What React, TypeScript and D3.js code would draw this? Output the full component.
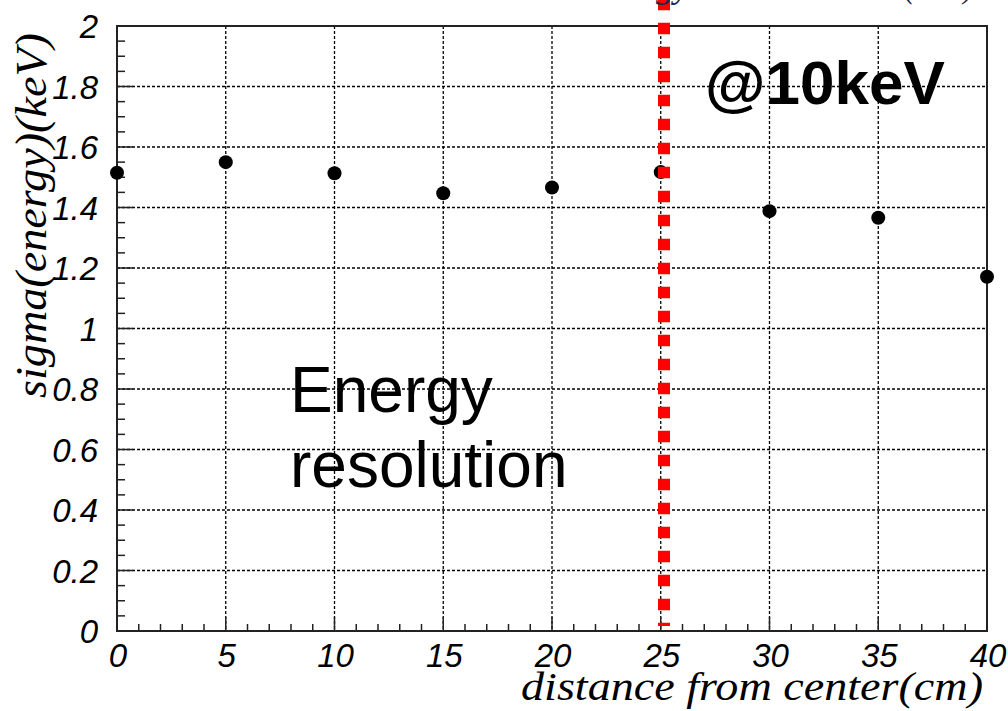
import React from "react";
import * as d3 from "d3";

const distances = [0, 5, 10, 15, 20, 25, 30, 35, 40];
const sigmaValues = [1.515, 1.55, 1.513, 1.447, 1.466, 1.517, 1.388, 1.366, 1.171];
const xTickValues = [0, 5, 10, 15, 20, 25, 30, 35, 40];
const yTickValues = [0, 0.2, 0.4, 0.6, 0.8, 1, 1.2, 1.4, 1.6, 1.8, 2];
const cutLine = 25.15;
const xTitle = "distance from center(cm)";
const yTitle = "sigma(energy)(keV)";
const noteText = "@10keV";
const labelLines = ["Energy", "resolution"];

const W = 1008;
const H = 711;
const M = { left: 117, right: 21, top: 26, bottom: 80 };

export default function App() {
  const x = d3.scaleLinear().domain([0, 40]).range([M.left, W - M.right]);
  const y = d3.scaleLinear().domain([0, 2]).range([H - M.bottom, M.top]);
  const x0 = x(0), x1 = x(40), y0 = y(0), y1 = y(2);
  const xMinor = d3.range(0, 40.001, 1);
  const yMinor = d3.range(0, 2.0001, 0.05);
  const sans = "'Liberation Sans', Arial, sans-serif";
  const serif = "'Liberation Serif', 'Times New Roman', serif";
  const fmt = (v: number) => (v === 0 ? "0" : v === 1 ? "1" : v === 2 ? "2" : d3.format(".1f")(v));

  return (
    <svg width={W} height={H} style={{ position: "absolute", left: 0, top: 0, background: "#fff" }}>
      {xTickValues.filter((v) => v > 0 && v < 40).map((v) => (
        <line key={"gx" + v} x1={x(v)} x2={x(v)} y1={y1} y2={y0} stroke="#000" strokeWidth={1.3} strokeDasharray="3,2" />
      ))}
      {yTickValues.filter((v) => v > 0 && v < 2).map((v) => (
        <line key={"gy" + v} x1={x0} x2={x1} y1={y(v)} y2={y(v)} stroke="#000" strokeWidth={1.3} strokeDasharray="3,2" />
      ))}
      {xMinor.map((v) => {
        const major = Math.abs(v % 5) < 1e-6;
        return <line key={"tx" + v} x1={x(v)} x2={x(v)} y1={y0} y2={y0 - (major ? 14 : 7)} stroke="#222" strokeWidth={1.5} />;
      })}
      {yMinor.map((v) => {
        const major = Math.abs((v * 5) - Math.round(v * 5)) < 1e-6;
        return <line key={"ty" + v} x1={x0} x2={x0 + (major ? 16 : 8)} y1={y(v)} y2={y(v)} stroke="#222" strokeWidth={1.5} />;
      })}
      <rect x={x0} y={y1} width={x1 - x0} height={y0 - y1} fill="none" stroke="#222" strokeWidth={2} />
      {distances.map((d, i) => (
        <circle key={"p" + i} cx={x(d)} cy={y(sigmaValues[i])} r={7} fill="#000" />
      ))}
      <line x1={x(cutLine)} x2={x(cutLine)} y1={y1 - 27.3} y2={y0 - 5} stroke="#ff0000" strokeWidth={12} strokeDasharray="11.5,12.5" />
      {yTickValues.map((v) => (
        <text key={"ly" + v} x={98} y={y(v) + 12} textAnchor="end" fontFamily={sans} fontStyle="italic" fontSize={33} fill="#000">
          {fmt(v)}
        </text>
      ))}
      {xTickValues.map((v) => (
        <text key={"lx" + v} x={x(v) + 1} y={667} textAnchor="middle" fontFamily={sans} fontStyle="italic" fontSize={33} fill="#000">
          {v}
        </text>
      ))}
      <text x={521} y={700} fontFamily={serif} fontStyle="italic" fontSize={41} textLength={462} lengthAdjust="spacingAndGlyphs" fill="#000">
        {xTitle}
      </text>
      <text transform="translate(46,398) rotate(-90)" x={0} y={0} fontFamily={serif} fontStyle="italic" fontSize={44} textLength={365} lengthAdjust="spacingAndGlyphs" fill="#000">
        {yTitle}
      </text>
      <text x={690} y={-3} textAnchor="end" fontFamily={serif} fontStyle="italic" fontSize={36} fill="#1a2a4a">energy</text>
      <text x={904} y={-3} fontFamily={serif} fontStyle="italic" fontSize={36} textLength={70} lengthAdjust="spacingAndGlyphs" fill="#1a2a4a">(keV)</text>
      <text x={705} y={104} fontFamily={sans} fontWeight="bold" fontSize={62} fill="#000">{noteText}</text>
      {labelLines.map((t, i) => (
        <text key={t} x={290} y={412 + i * 75} fontFamily={sans} fontSize={64} fill="#000">{t}</text>
      ))}
    </svg>
  );
}
